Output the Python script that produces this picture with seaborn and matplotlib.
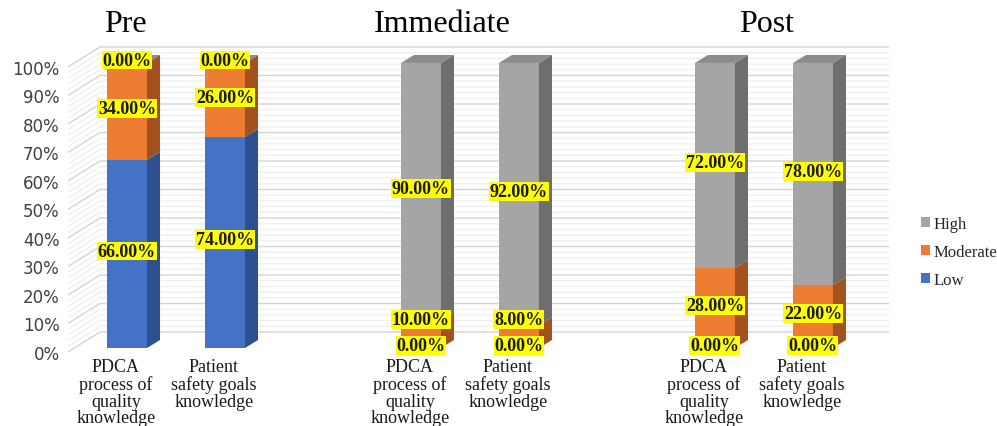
import numpy as np
import pandas as pd
import matplotlib
matplotlib.use("Agg")
import matplotlib.pyplot as plt
import seaborn as sns
from matplotlib.patches import Polygon, Patch
from matplotlib.transforms import ScaledTranslation, blended_transform_factory

# ---------------- data ----------------
phases = ["Pre", "Immediate", "Post"]
items = ["PDCA\nprocess of\nquality\nknowledge", "Patient\nsafety goals\nknowledge"]
low = [66, 74, 0, 0, 0, 0]
moderate = [34, 26, 10, 8, 28, 22]
high = [0, 0, 90, 92, 72, 78]
levels = ["High", "Moderate", "Low"]
ytick_values = list(range(0, 101, 10))

# ---------------- layout / style ----------------
positions = [0, 1, 3, 4, 6, 7]
phase_title_x = [-0.015, 3.22, 6.53]
bar_width = 0.408
depth_dx, depth_dy = 0.133, 2.8
front = {"Low": "#4472C4", "Moderate": "#ED7D31", "High": "#A5A5A5"}
side = {"Low": "#2E5090", "Moderate": "#A3521D", "High": "#6E6E6E"}
top_col = {"Low": "#5A84CF", "Moderate": "#C9682A", "High": "#8C8C8C"}

sns.set_theme(style="white")
plt.rcParams["font.family"] = ["DejaVu Sans"]
serif = "Liberation Serif"

fig = plt.figure(figsize=(9.97, 4.27), dpi=100)
ax = fig.add_axes([68 / 997, (427 - 358) / 427, (889 - 68) / 997, (358 - 40) / 427])
ax.set_xlim(-0.602, 7.776)
ax.set_ylim(-3.16, 108.4)

# back wall grid with perspective slants
x_axis, x_wall, x_right = -0.602, -0.276, 7.776
for v in range(0, 101, 2):
    major = v % 10 == 0
    ax.plot([x_axis, x_wall, x_right], [v - 1.4, v + 5.6, v + 5.6],
            color="#D4D4D4" if major else "#EDEDED", lw=1.0 if major else 0.8,
            zorder=0.5, solid_capstyle="butt")

# front faces via seaborn (cumulative overlap for stacking)
df = pd.DataFrame({"pos": positions, "Low": low, "Moderate": moderate, "High": high})
df["cum_low"] = df["Low"]
df["cum_mod"] = df["Low"] + df["Moderate"]
df["cum_high"] = df["cum_mod"] + df["High"]
for col, lvl in [("cum_high", "High"), ("cum_mod", "Moderate"), ("cum_low", "Low")]:
    sns.barplot(data=df, x="pos", y=col, native_scale=True, width=bar_width,
                color=front[lvl], saturation=1, errorbar=None, ax=ax,
                linewidth=0, zorder=2)

# side and top faces + labels
for i, p in enumerate(positions):
    xr = p + bar_width / 2
    xl = p - bar_width / 2
    base = 0
    prev_label = -100
    for lvl, vals in [("Low", low), ("Moderate", moderate), ("High", high)]:
        v = vals[i]
        y0, y1 = base, base + v
        if v > 0:
            ax.add_patch(Polygon([(xr, y0), (xr + depth_dx, y0 + depth_dy),
                                  (xr + depth_dx, y1 + depth_dy), (xr, y1)],
                                 closed=True, facecolor=side[lvl], edgecolor="none", zorder=2))
        ly = max((y0 + y1) / 2 + 1.0, prev_label + 9.0)
        prev_label = ly
        ax.text(p, ly, f"{v:.2f}%", ha="center", va="center", fontsize=13,
                fontweight="bold", family=serif, color="#1A1A1A", zorder=6,
                bbox=dict(facecolor="#FFFF00", edgecolor="none", pad=0.6))
        base = y1
    # top face (colour of top-most series)
    ax.add_patch(Polygon([(xl, base), (xr, base), (xr + depth_dx, base + depth_dy),
                          (xl + depth_dx, base + depth_dy)], closed=True,
                         facecolor=top_col["High"], edgecolor="none", zorder=2))

# axes cosmetics
for s in ax.spines.values():
    s.set_visible(False)
ax.set_xlabel("")
ax.set_ylabel("")
ax.set_yticks(ytick_values)
ax.set_yticklabels([f"{v}%" for v in ytick_values], fontsize=12, color="#404040")
ax.tick_params(axis="y", length=0, pad=6)
for lab in ax.get_yticklabels():
    lab.set_transform(lab.get_transform() + ScaledTranslation(0, -4 / 100, fig.dpi_scale_trans))
ax.set_xticks(positions)
ax.set_xticklabels(items * len(phases), fontsize=13, family=serif, color="#1A1A1A",
                   linespacing=0.98)
ax.tick_params(axis="x", length=0, pad=1)
for lab in ax.get_xticklabels():
    lab.set_transform(lab.get_transform() + ScaledTranslation(-11 / 100, 0, fig.dpi_scale_trans))
ax.grid(False)

# phase titles
trans = blended_transform_factory(ax.transData, fig.transFigure)
for name, xp in zip(phases, phase_title_x):
    ax.text(xp, 1 - 25 / 427, name, transform=trans, ha="center", va="center",
            fontsize=23, family=serif, color="#000000")

# legend
handles = [Patch(facecolor=front[l], edgecolor="none") for l in levels]
fig.legend(handles, levels, loc="center left", bbox_to_anchor=(914 / 997, 1 - 253 / 427),
           frameon=False, prop={"family": serif, "size": 12}, handlelength=0.55,
           handleheight=0.55, handletextpad=0.2, labelspacing=0.7, borderaxespad=0)

fig.savefig("out.png", dpi=100)
